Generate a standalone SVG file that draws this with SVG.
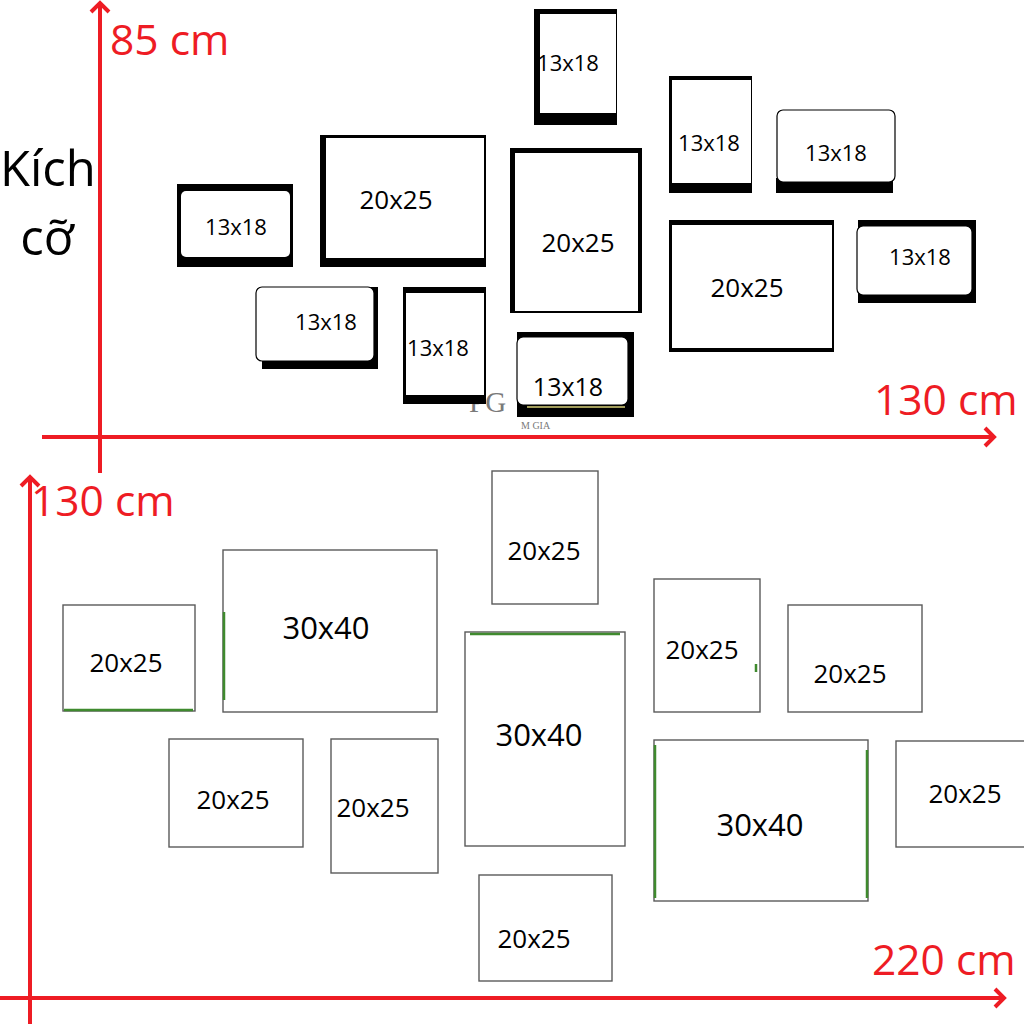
<svg xmlns="http://www.w3.org/2000/svg" width="1024" height="1024" viewBox="0 0 1024 1024">
<style>
.ax{stroke:#ee1c24;stroke-width:4;fill:none}
.rt{fill:#ee1c24;font-family:"Open Sans","DejaVu Sans",sans-serif;font-size:42.5px}
.kt{fill:#000;font-family:"Open Sans","DejaVu Sans",sans-serif;font-size:49px}
.bk{fill:#000}
.wh{fill:#fff}
.t{fill:#000;font-family:"Open Sans","DejaVu Sans",sans-serif;text-anchor:middle}
.s{font-size:22px}
.m{font-size:26px}
.l{font-size:31px}
.bf{fill:#fff;stroke:#5a5a5a;stroke-width:1.4}
.gr{stroke:#3f8a2e;stroke-width:2.5;fill:none}
.wm{fill:#7a7a7a;font-family:"Liberation Serif",serif}
</style>
<defs>
<marker id="ah" markerUnits="userSpaceOnUse" markerWidth="24" markerHeight="24" refX="12" refY="12" orient="auto">
<path d="M3,3 L12,12 L3,21" fill="none" stroke="#ee1c24" stroke-width="4"/>
</marker>
</defs>
<rect width="1024" height="1024" fill="#fff"/>

<g id="connectors">
<line class="ax" x1="100" y1="473" x2="100" y2="3" marker-end="url(#ah)"/>
<line class="ax" x1="42" y1="437" x2="994" y2="437" marker-end="url(#ah)"/>
<line class="ax" x1="30" y1="1024" x2="30" y2="477" marker-end="url(#ah)"/>
<line class="ax" x1="0" y1="998" x2="1004" y2="998" marker-end="url(#ah)"/>
</g>

<g id="labels">
<text class="rt" x="110" y="55">85 cm</text>
<text class="rt" x="874" y="415">130 cm</text>
<text class="rt" x="31" y="516">130 cm</text>
<text class="rt" x="872" y="975">220 cm</text>
<text class="kt" x="0" y="186">Kích</text>
<text class="kt" x="47" y="255" text-anchor="middle">cỡ</text>
</g>

<g id="watermark">
<text class="wm" x="469" y="412" font-size="29">PG</text>
<text class="wm" x="521" y="429" font-size="10">M GIA</text>
</g>

<!-- top layout: 13x18 / 20x25 black frames -->
<g id="t1"><rect class="bk" x="177" y="184" width="116" height="83"/><rect class="wh" x="181" y="191" width="109" height="66" rx="5"/><text class="t s" x="236" y="235">13x18</text></g>
<g id="t2"><rect class="bk" x="320" y="135" width="166" height="132"/><rect class="wh" x="326" y="138" width="158" height="120"/><text class="t m" x="396" y="209">20x25</text></g>
<g id="t3"><rect class="bk" x="262" y="287" width="116" height="82"/><rect class="wh" x="256" y="287" width="118" height="74" rx="6" stroke="#000" stroke-width="1.2"/><text class="t s" x="326" y="330">13x18</text></g>
<g id="t4"><rect class="bk" x="403" y="287" width="83" height="117"/><rect class="wh" x="406" y="293" width="78" height="102"/><text class="t s" x="438" y="356">13x18</text></g>
<g id="t5"><rect class="bk" x="534" y="9" width="83" height="116"/><rect class="wh" x="540" y="14" width="76" height="99"/><text class="t s" x="568" y="71">13x18</text></g>
<g id="t6"><rect class="bk" x="510" y="148" width="132" height="165"/><rect class="wh" x="515" y="153" width="123" height="158"/><text class="t m" x="578" y="252">20x25</text></g>
<g id="t7"><rect class="bk" x="517" y="332" width="117" height="85"/><rect class="wh" x="517" y="337" width="111" height="68" rx="6" stroke="#000" stroke-width="1.2"/><line x1="527" y1="407" x2="625" y2="407" stroke="#d9d27a" stroke-width="1.5"/><text class="t" x="568" y="396" font-size="25">13x18</text></g>
<g id="t8"><rect class="bk" x="669" y="76" width="83" height="117"/><rect class="wh" x="672" y="80" width="79" height="103"/><text class="t s" x="709" y="151">13x18</text></g>
<g id="t9"><rect class="bk" x="776" y="178" width="117" height="15"/><rect class="wh" x="777" y="110" width="118" height="72" rx="6" stroke="#000" stroke-width="1.2"/><text class="t s" x="836" y="161">13x18</text></g>
<g id="t10"><rect class="bk" x="669" y="220" width="165" height="132"/><rect class="wh" x="672" y="225" width="160" height="123"/><text class="t m" x="747" y="297">20x25</text></g>
<g id="t11"><rect class="bk" x="858" y="220" width="118" height="83"/><rect class="wh" x="857" y="226" width="115" height="69" rx="6" stroke="#000" stroke-width="1.2"/><text class="t s" x="920" y="265">13x18</text></g>

<!-- bottom layout: 20x25 / 30x40 thin frames -->
<g id="b1"><rect class="bf" x="63" y="605" width="132" height="106"/><line class="gr" x1="64" y1="710" x2="193" y2="710"/><text class="t m" x="126" y="672">20x25</text></g>
<g id="b2"><rect class="bf" x="223" y="550" width="214" height="162"/><line class="gr" x1="224" y1="612" x2="224" y2="700" stroke-width="1.5"/><text class="t l" x="326" y="639">30x40</text></g>
<g id="b3"><rect class="bf" x="169" y="739" width="134" height="108"/><text class="t m" x="233" y="809">20x25</text></g>
<g id="b4"><rect class="bf" x="331" y="739" width="107" height="134"/><text class="t m" x="373" y="817">20x25</text></g>
<g id="b5"><rect class="bf" x="492" y="471" width="106" height="133"/><text class="t m" x="544" y="560">20x25</text></g>
<g id="b6"><rect class="bf" x="465" y="632" width="160" height="214"/><line class="gr" x1="470" y1="634" x2="620" y2="634" stroke-width="2"/><text class="t l" x="539" y="746">30x40</text></g>
<g id="b7"><rect class="bf" x="654" y="579" width="106" height="133"/><line class="gr" x1="756" y1="664" x2="756" y2="672" stroke-width="3"/><text class="t m" x="702" y="659">20x25</text></g>
<g id="b8"><rect class="bf" x="788" y="605" width="134" height="107"/><text class="t m" x="850" y="683">20x25</text></g>
<g id="b9"><rect class="bf" x="654" y="740" width="214" height="161"/><line class="gr" x1="655" y1="745" x2="655" y2="898" stroke-width="1.5"/><line class="gr" x1="867" y1="750" x2="867" y2="898" stroke-width="1.5"/><text class="t l" x="760" y="836">30x40</text></g>
<g id="b10"><rect class="bf" x="896" y="741" width="134" height="106"/><text class="t m" x="965" y="803">20x25</text></g>
<g id="b11"><rect class="bf" x="479" y="875" width="133" height="106"/><text class="t m" x="534" y="948">20x25</text></g>
</svg>
